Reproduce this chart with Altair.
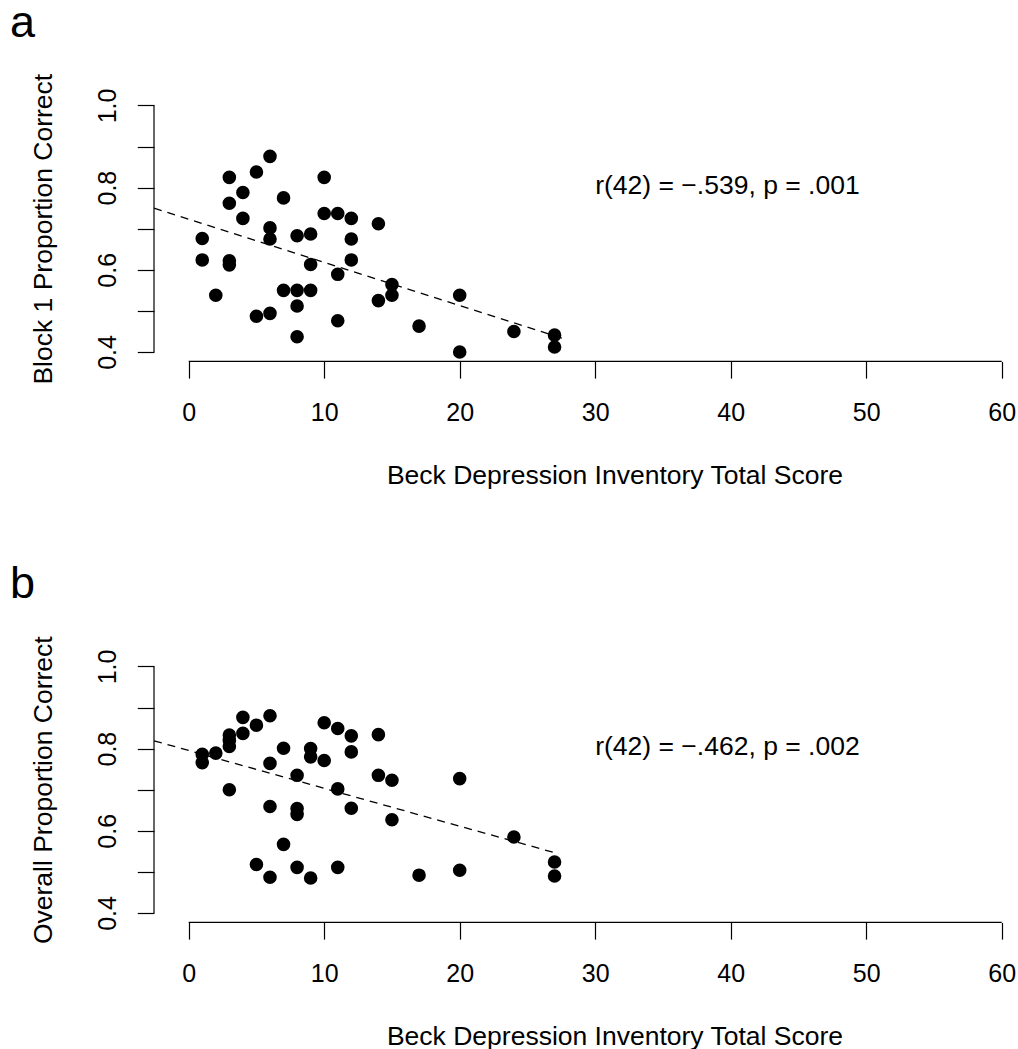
import altair as alt
import pandas as pd

# ---- data ----
bdi = [1, 1, 2, 3, 3, 3, 3, 4, 4, 5, 5, 6, 6, 6, 6, 7, 7, 8, 8, 8, 8, 9, 9, 9,
       10, 10, 11, 11, 11, 12, 12, 12, 14, 14, 15, 15, 17, 20, 20, 24, 27, 27]
block1 = [0.676, 0.624, 0.538, 0.825, 0.762, 0.622, 0.612, 0.788, 0.725, 0.838,
          0.487, 0.876, 0.702, 0.675, 0.494, 0.775, 0.550, 0.683, 0.550, 0.512,
          0.437, 0.687, 0.613, 0.550, 0.825, 0.737, 0.737, 0.589, 0.476, 0.725,
          0.675, 0.624, 0.712, 0.525, 0.564, 0.538, 0.463, 0.538, 0.400, 0.450,
          0.441, 0.412]
overall = [0.786, 0.766, 0.789, 0.833, 0.820, 0.805, 0.700, 0.876, 0.837, 0.857,
           0.518, 0.880, 0.764, 0.659, 0.487, 0.801, 0.567, 0.735, 0.654, 0.640,
           0.511, 0.800, 0.780, 0.485, 0.863, 0.771, 0.849, 0.702, 0.511, 0.831,
           0.792, 0.655, 0.834, 0.735, 0.723, 0.627, 0.492, 0.727, 0.504, 0.585,
           0.524, 0.490]

fit_x = [-2.56, 27.9]
fit_a = [0.750, 0.430]
fit_x_b = [-2.56, 27.3]
fit_b = [0.819, 0.544]

x_ticks = [0, 10, 20, 30, 40, 50, 60]
y_ticks = [0.4, 0.5, 0.6, 0.7, 0.8, 0.9, 1.0]
x_domain = [-2.56, 60.5]
y_domain = [0.3771, 1.0229]

panel_labels = ["a", "b"]
y_titles = ["Block 1 Proportion Correct", "Overall Proportion Correct"]
x_title = "Beck Depression Inventory Total Score"
annotations = ["r(42) = \u2212.539, p = .001", "r(42) = \u2212.462, p = .002"]
annot_pos = [30, 0.785]

FONT = "Liberation Sans"
W, H = 854.5, 265.4


def panel(label, ys, fx, fy, ytitle, annot):
    xscale = alt.Scale(domain=x_domain, zero=False, nice=False)
    yscale = alt.Scale(domain=y_domain, zero=False, nice=False)
    xaxis = alt.Axis(values=x_ticks, domain=False, grid=False, tickColor="black",
                     tickSize=16.7, tickWidth=1.2, labelFontSize=25, labelFont=FONT,
                     labelColor="black", labelPadding=22.5, labelFlush=False,
                     labelOverlap=False, title=x_title, titleFont=FONT,
                     titleFontSize=26.5, titleFontWeight="normal", titleColor="black",
                     titleX=460.5, titleY=122, titleAlign="center",
                     titleBaseline="alphabetic", titleAngle=0)
    yaxis = alt.Axis(values=y_ticks, format=".1f", domain=False, grid=False,
                     labelExpr="round(datum.value * 10) % 2 == 0 ? format(datum.value, '.1f') : ''",
                     tickColor="black", tickSize=16.7, tickWidth=1.2,
                     labelFontSize=25, labelFont=FONT, labelColor="black",
                     labelAngle=270, labelAlign="center", labelBaseline="alphabetic",
                     labelPadding=22.3, labelFlush=False, labelOverlap=False,
                     title=ytitle, titleFont=FONT, titleFontSize=26.5,
                     titleFontWeight="normal", titleColor="black",
                     titleAngle=270, titleAlign="center", titleBaseline="alphabetic",
                     titleX=-102.3, titleY=H / 2)

    def X(f):
        return alt.X(f, scale=xscale, axis=xaxis)

    def Y(f):
        return alt.Y(f, scale=yscale, axis=yaxis)

    pts = alt.Chart(pd.DataFrame({"bdi": bdi, "prop": ys})).mark_circle(
        size=185, color="black", opacity=1
    ).encode(x=X("bdi:Q"), y=Y("prop:Q"))
    fit = alt.Chart(pd.DataFrame({"x": fx, "y": fy})).mark_line(
        color="black", strokeWidth=1.3, strokeDash=[8, 6]
    ).encode(x=X("x:Q"), y=Y("y:Q"))
    xline = alt.Chart(pd.DataFrame({"x0": [x_ticks[0]], "x1": [x_ticks[-1]],
                                    "y": [y_domain[0]]})).mark_rule(
        color="black", strokeWidth=1.2
    ).encode(x=X("x0:Q"), x2="x1:Q", y=Y("y:Q"))
    yline = alt.Chart(pd.DataFrame({"x": [x_domain[0]], "y0": [y_ticks[0]],
                                    "y1": [y_ticks[-1]]})).mark_rule(
        color="black", strokeWidth=1.2
    ).encode(x=X("x:Q"), y=Y("y0:Q"), y2="y1:Q")
    txt = alt.Chart(pd.DataFrame({"x": [annot_pos[0]], "y": [annot_pos[1]],
                                  "t": [annot]})).mark_text(
        align="left", baseline="alphabetic", fontSize=26.5, font=FONT, color="black"
    ).encode(x=X("x:Q"), y=Y("y:Q"), text="t:N")
    lab = alt.Chart(pd.DataFrame({"t": [label]})).mark_text(
        align="left", baseline="alphabetic", fontSize=45, font=FONT, color="black"
    ).encode(text="t:N", x=alt.value(-144), y=alt.value(-58.6))

    return alt.layer(pts, fit, xline, yline, txt, lab).properties(width=W, height=H)


top = panel(panel_labels[0], block1, fit_x, fit_a, y_titles[0], annotations[0])
bottom = panel(panel_labels[1], overall, fit_x_b, fit_b, y_titles[1], annotations[1])

chart = alt.vconcat(
    top, bottom, spacing=295, bounds="flush",
    padding={"left": 10, "top": 1, "right": 0, "bottom": 0},
).configure(
    background="white", font=FONT, view=alt.ViewConfig(stroke=None)
)

chart.save("out.html", embed_options={"renderer": "svg", "actions": False})
